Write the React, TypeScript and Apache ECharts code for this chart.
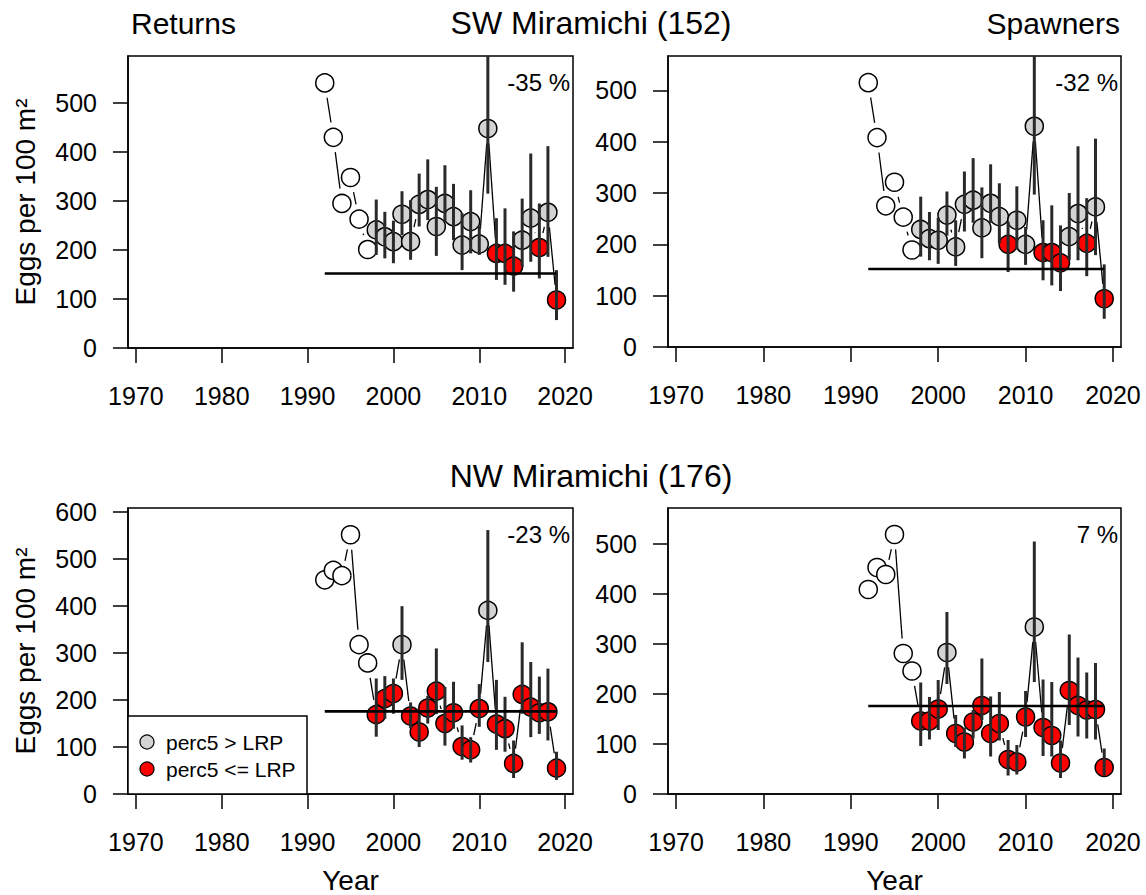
import React, { useEffect, useRef } from "react";
import * as echarts from "echarts";

const years = [1992, 1993, 1994, 1995, 1996, 1997, 1998, 1999, 2000, 2001, 2002, 2003, 2004, 2005, 2006, 2007, 2008, 2009, 2010, 2011, 2012, 2013, 2014, 2015, 2016, 2017, 2018, 2019];

const lrpSW = 152;
const lrpNW = 176;

// SW Miramichi - Returns
const swReturns = [541, 430, 295, 348, 263, 201, 241, 227, 217, 273, 217, 293, 303, 248, 295, 268, 210, 258, 212, 448, 193, 193, 167, 220, 265, 205, 277, 98];
const swReturnsLo = [null, null, null, null, null, null, 190, 183, 173, 230, 180, 248, 261, 188, 258, 220, 159, 193, 190, 315, 139, 129, 115, 166, 176, 142, 186, 57];
const swReturnsHi = [null, null, null, null, null, null, 303, 278, 260, 320, 302, 356, 385, 329, 373, 335, 275, 322, 250, 640, 265, 285, 238, 305, 397, 295, 412, 159];

// SW Miramichi - Spawners
const swSpawners = [515, 408, 275, 321, 253, 189, 229, 211, 208, 257, 195, 278, 286, 232, 280, 254, 200, 247, 200, 430, 184, 184, 164, 215, 260, 202, 273, 94];
const swSpawnersLo = [null, null, null, null, null, null, 176, 169, 162, 217, 158, 225, 242, 173, 242, 202, 146, 190, 160, 297, 130, 120, 109, 169, 169, 138, 179, 55];
const swSpawnersHi = [null, null, null, null, null, null, 293, 263, 252, 303, 247, 342, 368, 311, 356, 319, 244, 313, 234, 620, 247, 276, 237, 300, 391, 290, 406, 161];

// NW Miramichi - Returns
const nwReturns = [456, 476, 465, 552, 318, 279, 169, 203, 214, 318, 166, 132, 183, 219, 150, 173, 101, 94, 182, 391, 149, 139, 65, 212, 185, 173, 175, 55];
const nwReturnsLo = [null, null, null, null, null, null, 122, 160, 171, 243, 140, 100, 150, 170, 103, 139, 73, 67, 143, 281, 94, 90, 34, 171, 121, 128, 114, 30];
const nwReturnsHi = [null, null, null, null, null, null, 246, 251, 246, 400, 195, 171, 209, 310, 228, 239, 146, 121, 234, 562, 243, 207, 114, 323, 281, 250, 267, 90];

// NW Miramichi - Spawners
const nwSpawners = [409, 453, 439, 519, 281, 246, 146, 146, 170, 283, 121, 104, 144, 177, 121, 141, 69, 64, 154, 334, 133, 117, 62, 207, 177, 168, 169, 53];
const nwSpawnersLo = [null, null, null, null, null, null, 96, 109, 128, 220, 94, 71, 111, 148, 75, 107, 37, 39, 114, 224, 76, 75, 32, 138, 115, 111, 109, 37];
const nwSpawnersHi = [null, null, null, null, null, null, 223, 194, 228, 364, 158, 133, 168, 271, 195, 204, 108, 98, 206, 505, 229, 224, 107, 319, 273, 243, 262, 91];

const xTicks = [1970, 1980, 1990, 2000, 2010, 2020];
const yTicks500 = [0, 100, 200, 300, 400, 500];
const yTicks600 = [0, 100, 200, 300, 400, 500, 600];

const percentLabels = ["-35 %", "-32 %", "-23 %", "7 %"];
const legendLabels = ["perc5 > LRP", "perc5 <= LRP"];

const FONT = "'Liberation Sans', Arial, Helvetica, sans-serif";
const GRAY = "#d3d3d3";
const RED = "#ff0000";
const LINE_GAP = 15;

type Panel = {
  vals: number[];
  lo: (number | null)[];
  hi: (number | null)[];
  lrp: number;
  yMax: number;
  yTicks: number[];
  grid: { left: number; top: number; width: number; height: number };
  pct: string;
};

const panels: Panel[] = [
  { vals: swReturns, lo: swReturnsLo, hi: swReturnsHi, lrp: lrpSW, yMax: 596, yTicks: yTicks500, grid: { left: 128, top: 56, width: 445, height: 292 }, pct: percentLabels[0] },
  { vals: swSpawners, lo: swSpawnersLo, hi: swSpawnersHi, lrp: lrpSW, yMax: 567, yTicks: yTicks500, grid: { left: 668, top: 56, width: 453, height: 291 }, pct: percentLabels[1] },
  { vals: nwReturns, lo: nwReturnsLo, hi: nwReturnsHi, lrp: lrpNW, yMax: 609, yTicks: yTicks600, grid: { left: 128, top: 508, width: 445, height: 286 }, pct: percentLabels[2] },
  { vals: nwSpawners, lo: nwSpawnersLo, hi: nwSpawnersHi, lrp: lrpNW, yMax: 572, yTicks: yTicks500, grid: { left: 668, top: 508, width: 453, height: 286 }, pct: percentLabels[3] },
];

const plain = (v: number) => String(Math.round(v));

function buildOption() {
  const grids: any[] = [];
  const xAxes: any[] = [];
  const yAxes: any[] = [];
  const series: any[] = [];
  const graphics: any[] = [];

  panels.forEach((p, i) => {
    grids.push({
      ...p.grid,
      show: true,
      borderColor: "#000",
      borderWidth: 1.5,
      backgroundColor: "transparent",
      containLabel: false,
      outerBoundsMode: "none",
    });
    xAxes.push({
      gridIndex: i,
      type: "value",
      min: 1969.08,
      max: 2020.92,
      axisLine: { show: true, lineStyle: { color: "#000", width: 1.5 } },
      splitLine: { show: false },
      axisTick: { show: true, inside: false, length: 15, customValues: xTicks, lineStyle: { color: "#000", width: 1.5 } },
      axisLabel: { customValues: xTicks, formatter: plain, fontSize: 25, color: "#000", fontFamily: FONT, margin: 35, hideOverlap: false },
    });
    yAxes.push({
      gridIndex: i,
      type: "value",
      min: 0,
      max: p.yMax,
      axisLine: { show: true, lineStyle: { color: "#000", width: 1.5 } },
      splitLine: { show: false },
      axisTick: { show: true, inside: false, length: 15, customValues: p.yTicks, lineStyle: { color: "#000", width: 1.5 } },
      axisLabel: { customValues: p.yTicks, formatter: plain, fontSize: 25, color: "#000", fontFamily: FONT, margin: 31, hideOverlap: false },
    });

    // connecting line segments, with gaps around the points (R type = "b")
    series.push({
      type: "custom",
      xAxisIndex: i,
      yAxisIndex: i,
      data: years.slice(0, -1).map((y, k) => [y, p.vals[k], years[k + 1], p.vals[k + 1]]),
      encode: { x: [0, 2], y: [1, 3] },
      renderItem: (params: any, api: any) => {
        const a = api.coord([api.value(0), api.value(1)]);
        const b = api.coord([api.value(2), api.value(3)]);
        const dx = b[0] - a[0];
        const dy = b[1] - a[1];
        const d = Math.sqrt(dx * dx + dy * dy);
        if (d <= 2 * LINE_GAP) return { type: "group", children: [] };
        const ux = dx / d;
        const uy = dy / d;
        return {
          type: "line",
          shape: {
            x1: a[0] + ux * LINE_GAP,
            y1: a[1] + uy * LINE_GAP,
            x2: b[0] - ux * LINE_GAP,
            y2: b[1] - uy * LINE_GAP,
          },
          style: { stroke: "#000", lineWidth: 1.3 },
        };
      },
      z: 2,
      silent: true,
    });
    // points
    series.push({
      type: "scatter",
      xAxisIndex: i,
      yAxisIndex: i,
      symbol: "circle",
      symbolSize: 18,
      data: years.map((y, k) => {
        const lo = p.lo[k];
        const fill = lo == null ? "#ffffff" : lo > p.lrp ? GRAY : RED;
        return { value: [y, p.vals[k]], itemStyle: { color: fill } };
      }),
      itemStyle: { borderColor: "#000", borderWidth: 1.5, opacity: 1 },
      z: 3,
      silent: true,
    });
    // error bars
    const yMax = p.yMax;
    series.push({
      type: "custom",
      xAxisIndex: i,
      yAxisIndex: i,
      data: years
        .map((y, k) => (p.lo[k] == null ? null : [y, p.lo[k], p.hi[k]]))
        .filter((d) => d !== null),
      encode: { x: 0, y: [1, 2] },
      renderItem: (params: any, api: any) => {
        const x = api.value(0);
        const lo = api.value(1);
        const hi = Math.min(api.value(2), yMax);
        const a = api.coord([x, lo]);
        const b = api.coord([x, hi]);
        return {
          type: "line",
          shape: { x1: a[0], y1: a[1], x2: b[0], y2: b[1] },
          style: { stroke: "#2a2a2a", lineWidth: 3 },
        };
      },
      z: 4,
      silent: true,
    });
    // LRP line
    series.push({
      type: "line",
      xAxisIndex: i,
      yAxisIndex: i,
      data: [
        [years[0], p.lrp],
        [years[years.length - 1], p.lrp],
      ],
      symbol: "none",
      lineStyle: { color: "#000", width: 2.6 },
      z: 5,
      silent: true,
    });

    graphics.push({
      type: "text",
      x: p.grid.left + p.grid.width - 3,
      y: p.grid.top + 26,
      style: { text: p.pct, fontSize: 24, fontFamily: FONT, fill: "#000", textAlign: "right", textVerticalAlign: "middle" },
      z: 10,
    });
  });

  // titles
  const title = (text: string, x: number, y: number, align: string, size = 30) => ({
    type: "text",
    x,
    y,
    style: { text, fontSize: size, fontFamily: FONT, fill: "#000", textAlign: align, textVerticalAlign: "middle" },
    z: 10,
  });
  graphics.push(title("Returns", 131, 23, "left", 30));
  graphics.push(title("SW Miramichi (152)", 591, 23, "center", 32));
  graphics.push(title("Spawners", 1120, 23, "right", 30));
  graphics.push(title("NW Miramichi (176)", 591, 476, "center", 32));
  graphics.push(title("Year", 350.5, 880, "center", 28));
  graphics.push(title("Year", 894.5, 880, "center", 28));
  graphics.push({
    type: "text",
    x: 25,
    y: 202,
    rotation: Math.PI / 2,
    style: { text: "Eggs per 100 m²", fontSize: 28, fontFamily: FONT, fill: "#000", textAlign: "center", textVerticalAlign: "middle" },
    z: 10,
  });
  graphics.push({
    type: "text",
    x: 25,
    y: 651,
    rotation: Math.PI / 2,
    style: { text: "Eggs per 100 m²", fontSize: 28, fontFamily: FONT, fill: "#000", textAlign: "center", textVerticalAlign: "middle" },
    z: 10,
  });

  // legend
  graphics.push({
    type: "rect",
    shape: { x: 128, y: 716, width: 179, height: 78 },
    style: { fill: "#fff", stroke: "#000", lineWidth: 1.5 },
    z: 9,
  });
  const legendFills = [GRAY, RED];
  legendLabels.forEach((lab, k) => {
    const cy = 742 + k * 27;
    graphics.push({
      type: "circle",
      shape: { cx: 147, cy, r: 7 },
      style: { fill: legendFills[k], stroke: "#000", lineWidth: 1.2 },
      z: 10,
    });
    graphics.push({
      type: "text",
      x: 166,
      y: cy,
      style: { text: lab, fontSize: 21, fontFamily: FONT, fill: "#000", textAlign: "left", textVerticalAlign: "middle" },
      z: 10,
    });
  });

  return {
    animation: false,
    backgroundColor: "#ffffff",
    grid: grids,
    xAxis: xAxes,
    yAxis: yAxes,
    series,
    graphic: graphics,
  };
}

export default function App() {
  const ref = useRef<HTMLDivElement>(null);
  useEffect(() => {
    if (!ref.current) return;
    const chart = echarts.init(ref.current, undefined, { renderer: "svg" });
    chart.setOption(buildOption() as any);
    return () => chart.dispose();
  }, []);
  return (
    <div
      ref={ref}
      style={{ position: "fixed", left: 0, top: 0, width: 1146, height: 895, background: "#fff" }}
    />
  );
}
